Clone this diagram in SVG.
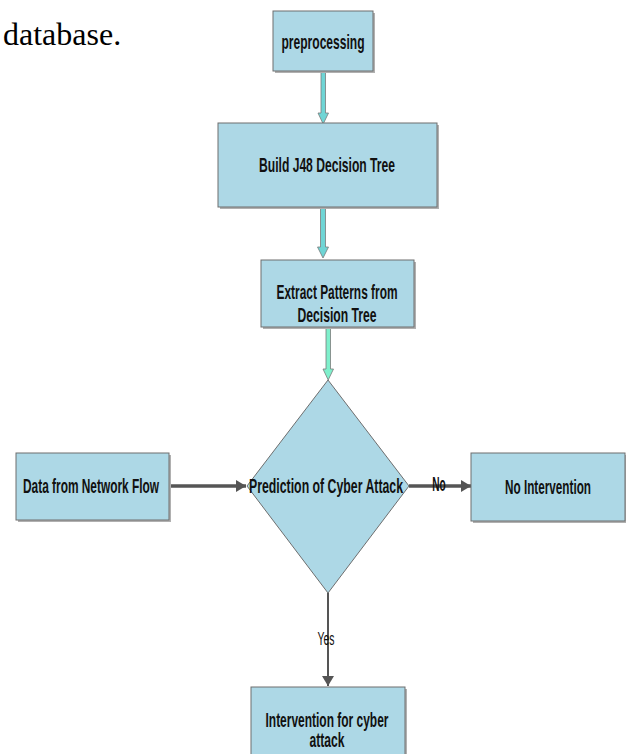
<svg xmlns="http://www.w3.org/2000/svg" width="626" height="754" viewBox="0 0 626 754">
<style>
.box{fill:#add8e6;stroke:#6e6e6e;stroke-width:1}
.shadow{fill:#b0b0b0}
.lbl{font-family:"Liberation Sans",Arial,sans-serif;font-weight:bold;font-size:20.5px;fill:#111;text-anchor:middle}
.blk{fill:#6fd5d5;stroke:#7a7a7a;stroke-width:0.8}
.blk2{fill:#7ff0cc;stroke:#7a7a7a;stroke-width:0.8}
.dark{stroke:#555;stroke-width:3.5;fill:none}
</style>
<defs>
<marker id="ah" viewBox="0 0 10 12" refX="10" refY="6" markerWidth="10" markerHeight="12" markerUnits="userSpaceOnUse" orient="auto">
<path d="M0,0 L10,6 L0,12 Z" fill="#555"/>
</marker>
</defs>
<rect width="626" height="754" fill="#fff"/>
<text x="3" y="45" font-family="Liberation Serif,serif" font-size="32" fill="#000">database.</text>

<g id="connectors">
<polygon class="blk" points="321,71 325.5,71 325.5,113 328.5,113 323.2,124 318,113 321,113"/>
<polygon class="blk" points="320.5,207 325.5,207 325.5,247 328.5,247 323,258 317.5,247 320.5,247"/>
<polygon class="blk2" points="326,327 330.5,327 330.5,369 333.5,369 328.2,380 323,369 326,369"/>
<line class="dark" x1="169" y1="486" x2="246" y2="486" marker-end="url(#ah)"/>
<line class="dark" x1="409" y1="486" x2="471" y2="486" marker-end="url(#ah)"/>
<line x1="328" y1="593" x2="328" y2="686" stroke="#555" stroke-width="2" marker-end="url(#ah)"/>
<text class="lbl" x="439" y="491" font-size="16" textLength="13.5" lengthAdjust="spacingAndGlyphs">No</text>
<text x="326" y="645" font-family="Liberation Sans,Arial,sans-serif" font-size="18" text-anchor="middle" fill="#111" textLength="17" lengthAdjust="spacingAndGlyphs">Yes</text>
</g>

<g id="preprocessing">
<rect class="shadow" x="275" y="13" width="100" height="60"/>
<rect class="box" x="273" y="11" width="100" height="60"/>
<text class="lbl" x="323" y="49" textLength="83" lengthAdjust="spacingAndGlyphs">preprocessing</text>
</g>

<g id="build">
<rect class="shadow" x="220" y="125" width="219" height="84"/>
<rect class="box" x="218" y="123" width="219" height="84"/>
<text class="lbl" x="327" y="172" textLength="136" lengthAdjust="spacingAndGlyphs">Build J48 Decision Tree</text>
</g>

<g id="extract">
<rect class="shadow" x="263" y="262" width="153" height="67"/>
<rect class="box" x="261" y="260" width="153" height="67"/>
<text class="lbl" x="337" y="299" textLength="121" lengthAdjust="spacingAndGlyphs">Extract Patterns from</text>
<text class="lbl" x="337" y="322" textLength="79" lengthAdjust="spacingAndGlyphs">Decision Tree</text>
</g>

<g id="decision">
<polygon class="box" points="328,380 409,486 328,593 247,486"/>
<text class="lbl" x="326" y="493" textLength="154" lengthAdjust="spacingAndGlyphs">Prediction of Cyber Attack</text>
</g>

<g id="data">
<rect class="shadow" x="18" y="455" width="153" height="67"/>
<rect class="box" x="16" y="453" width="153" height="67"/>
<text class="lbl" x="91" y="493" textLength="136" lengthAdjust="spacingAndGlyphs">Data from Network Flow</text>
</g>

<g id="nointervention">
<rect class="shadow" x="473" y="455" width="153" height="68"/>
<rect class="box" x="471" y="453" width="154" height="68"/>
<text class="lbl" x="548" y="494" textLength="86" lengthAdjust="spacingAndGlyphs">No Intervention</text>
</g>

<g id="intervention">
<rect class="shadow" x="253" y="689" width="154" height="70"/>
<rect class="box" x="251" y="687" width="154" height="70"/>
<text class="lbl" x="327" y="727" textLength="123" lengthAdjust="spacingAndGlyphs">Intervention for cyber</text>
<text class="lbl" x="327" y="747" textLength="35" lengthAdjust="spacingAndGlyphs">attack</text>
</g>
</svg>
